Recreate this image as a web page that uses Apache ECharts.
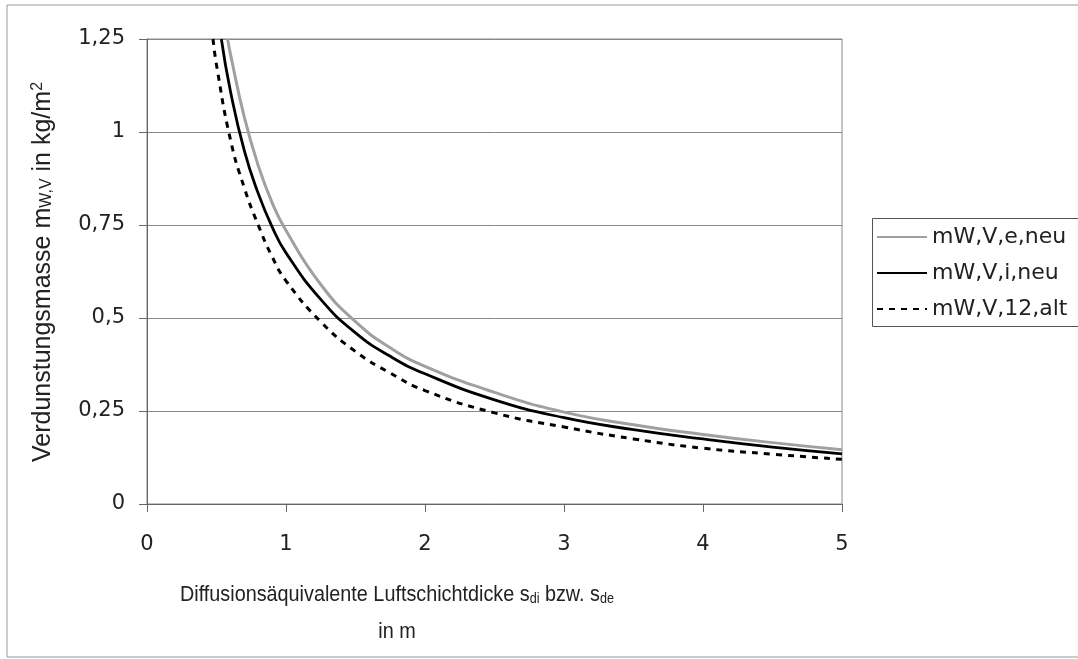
<!DOCTYPE html>
<html>
<head>
<meta charset="utf-8">
<script src="https://cdn.jsdelivr.net/npm/echarts@6/dist/echarts.min.js"></script>
<style>
html,body{margin:0;padding:0;background:#fff;}
#c{width:1078px;height:659px;}
</style>
</head>
<body>
<div id="c"></div>
<script>
var seriesNames = ['mW,V,e,neu', 'mW,V,i,neu', 'mW,V,12,alt'];
var xTicks = [0, 1, 2, 3, 4, 5];
var yTicks = [0, 0.25, 0.5, 0.75, 1, 1.25];

var xE = [0.58, 0.6, 0.7, 0.8, 0.9, 1, 1.25, 1.5, 1.75, 2, 2.5, 3, 3.5, 4, 4.5, 5];
var yE = [1.25, 1.21, 1.04, 0.91, 0.81, 0.735, 0.59, 0.49, 0.42, 0.37, 0.30, 0.247, 0.213, 0.187, 0.165, 0.146];

var xI = [0.535, 0.6, 0.7, 0.8, 0.9, 1, 1.25, 1.5, 1.75, 2, 2.5, 3, 3.5, 4, 4.5, 5];
var yI = [1.25, 1.11, 0.95, 0.835, 0.745, 0.675, 0.55, 0.46, 0.397, 0.35, 0.28, 0.232, 0.20, 0.175, 0.153, 0.135];

var xA = [0.475, 0.5, 0.6, 0.7, 0.8, 0.9, 1, 1.25, 1.5, 1.75, 2, 2.5, 3, 3.5, 4, 4.5, 5];
var yA = [1.25, 1.18, 0.98, 0.85, 0.75, 0.665, 0.60, 0.49, 0.41, 0.352, 0.305, 0.245, 0.207, 0.175, 0.15, 0.134, 0.12];

function pairs(xs, ys) { return xs.map(function (x, i) { return [x, ys[i]]; }); }

var FONT = 'Liberation Sans, Arial, sans-serif';
var WIDE = 'DejaVu Sans, sans-serif';
var chart = echarts.init(document.getElementById('c'), null, {renderer: 'canvas'});
chart.setOption({
  animation: false,
  backgroundColor: '#fff',
  grid: {left: 147, right: 236, top: 39, bottom: 155, show: true, borderColor: '#888', borderWidth: 1, backgroundColor: 'transparent'},
  xAxis: {
    type: 'value', min: xTicks[0], max: xTicks[xTicks.length - 1], interval: 1,
    axisLine: {show: true, lineStyle: {color: '#666', width: 1}},
    axisTick: {show: true, length: 8, lineStyle: {color: '#666'}},
    splitLine: {show: false},
    axisLabel: {fontFamily: WIDE, fontSize: 21, color: '#222', margin: 30}
  },
  yAxis: {
    type: 'value', min: yTicks[0], max: yTicks[yTicks.length - 1], interval: 0.25,
    axisLine: {show: true, lineStyle: {color: '#666', width: 1}},
    axisTick: {show: true, length: 8, lineStyle: {color: '#666'}},
    splitLine: {show: true, lineStyle: {color: '#888', width: 1}},
    axisLabel: {fontFamily: WIDE, fontSize: 21, color: '#222', margin: 22,
      formatter: function (v) { return String(v).replace('.', ','); }}
  },
  legend: {
    orient: 'vertical', left: 872, top: 218,
    data: seriesNames,
    itemWidth: 50, itemHeight: 14, itemGap: 14,
    padding: [8, 4, 8, 4],
    borderWidth: 0,
    itemStyle: {color: 'rgba(0,0,0,0)', borderWidth: 0, opacity: 0},
    textStyle: {fontFamily: WIDE, fontSize: 22, color: '#222'}
  },
  graphic: [
    {type: 'rect', shape: {x: 7, y: 5, width: 1100, height: 652}, style: {fill: 'none', stroke: '#999', lineWidth: 1}, silent: true, z: -1},
    {type: 'rect', shape: {x: 872.5, y: 218.5, width: 300, height: 108}, style: {fill: 'none', stroke: '#555', lineWidth: 1}, silent: true, z: 1},
    {type: 'text', x: 397, y: 595, scaleX: 0.9, style: {
      text: 'Diffusionsäquivalente Luftschichtdicke s{s|di} bzw. s{s|de}',
      fontFamily: FONT, fontSize: 22, fill: '#222', align: 'center', verticalAlign: 'middle',
      rich: {s: {fontFamily: FONT, fontSize: 14, fill: '#222', verticalAlign: 'bottom', padding: [9, 0, 0, 0]}}
    }},
    {type: 'text', x: 397, y: 632, scaleX: 0.9, style: {text: 'in m', fontFamily: FONT, fontSize: 22, fill: '#222', align: 'center', verticalAlign: 'middle'}},
    {type: 'text', x: 43, y: 272, rotation: Math.PI / 2, style: {
      text: 'Verdunstungsmasse m{s|W,V} in kg/m{p|2}',
      fontFamily: FONT, fontSize: 25, fill: '#222', align: 'center', verticalAlign: 'middle',
      rich: {s: {fontFamily: FONT, fontSize: 16, fill: '#222', padding: [8, 0, 0, 0]}, p: {fontFamily: FONT, fontSize: 16, fill: '#222', padding: [0, 0, 10, 0]}}
    }}
  ],
  series: [
    {name: seriesNames[0], type: 'line', smooth: true, symbol: 'none', data: pairs(xE, yE), z: 2,
      lineStyle: {color: '#a0a0a0', width: 3}, itemStyle: {color: '#a0a0a0'}},
    {name: seriesNames[1], type: 'line', smooth: true, symbol: 'none', data: pairs(xI, yI), z: 3,
      lineStyle: {color: '#000', width: 2.8}, itemStyle: {color: '#000'}},
    {name: seriesNames[2], type: 'line', smooth: true, symbol: 'none', data: pairs(xA, yA), z: 4,
      lineStyle: {color: '#000', width: 3, type: [6, 6]}, itemStyle: {color: '#000'}}
  ]
});
</script>
</body>
</html>
